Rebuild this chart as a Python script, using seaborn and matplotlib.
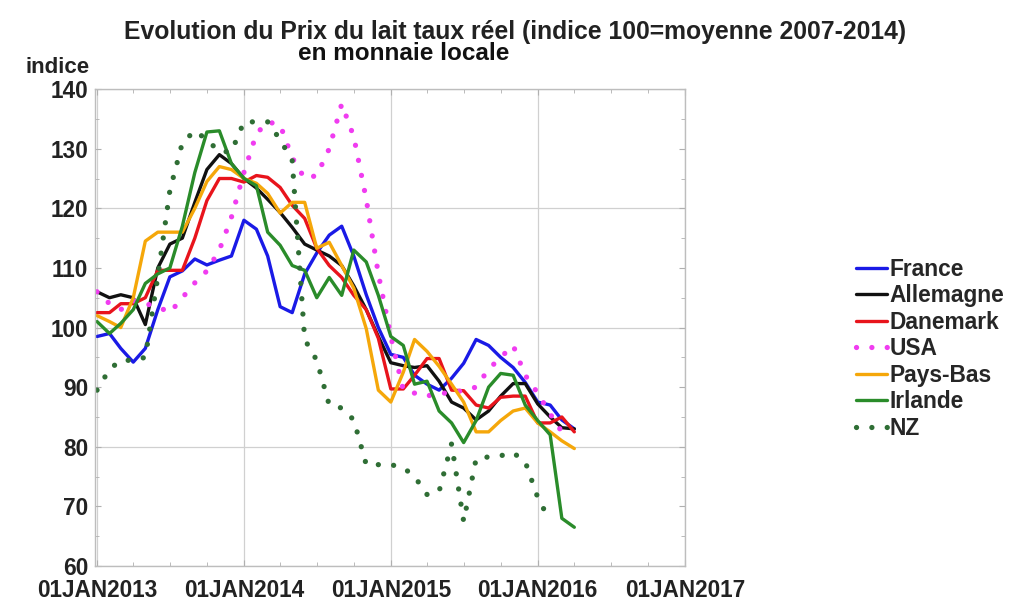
import numpy as np
import pandas as pd
import seaborn as sns
import matplotlib
matplotlib.use("Agg")
import matplotlib.pyplot as plt
import matplotlib.dates as mdates
from matplotlib.ticker import MultipleLocator, FuncFormatter

# --- données (mensuel, jan 2013 -> avr 2016) ---
mois = pd.date_range("2013-01-01", periods=40, freq="MS")

france = [98.5, 99, 96.5, 94.2, 96.5, 103, 108.5, 109.5, 111.5, 110.5,
          111.3, 112, 118, 116.5, 112, 103.5, 102.5, 109, 112.5, 115.5,
          117, 112, 105.5, 100, 95.5, 95, 92, 90.5, 89.5, 91.5,
          94, 98, 97, 95, 93.3, 90.8, 87.5, 87, 84.5, 83]
allemagne = [106, 105, 105.5, 105, 100.5, 110, 114, 115, 121, 126.5,
             129, 127.5, 125, 123.4, 121.5, 119.3, 116.8, 114, 113, 112,
             110.4, 107, 103, 98.5, 94.1, 93.6, 93.3, 93.6, 91, 87.5,
             86.5, 84.5, 86, 88.5, 90.6, 90.6, 87.2, 85, 83.2, 83]
danemark = [102.5, 102.5, 104, 104, 105, 109.6, 109.6, 109.6, 115, 121.3,
            125, 125, 124.4, 125.5, 125.2, 123.5, 120.5, 118.3, 113.3, 110.4,
            108.4, 105.4, 103, 98.2, 89.7, 89.7, 92, 94.8, 94.8, 89.5,
            89.4, 87, 86.5, 88.3, 88.5, 88.5, 84, 84, 85, 82.5]
usa = [106, 104, 103, 104.5, 104, 103.5, 102.5, 105, 107.5, 109.5,
       113, 118.5, 126, 132.5, 134.5, 134, 128.5, 125, 125.5, 130,
       137.5, 132, 121.5, 109, 98.5, 89.5, 89, 88.5, 89, 89,
       89.5, 90, 93, 95, 97, 92, 89, 85.5, 82.5, np.nan]
pays_bas = [102, 101, 100, 105, 114.5, 116, 116, 116, 120, 124.5,
            127, 126.5, 125, 124.2, 122.5, 119.2, 121, 121, 113.3, 114.3,
            110.4, 106.6, 99.8, 89.5, 87.5, 92.5, 98, 96, 93.5, 90.5,
            87.5, 82.5, 82.5, 84.4, 86, 86.5, 84, 82.5, 81, 79.7]
irlande = [101, 99, 100.7, 103, 107.4, 109, 110, 117, 126, 132.8,
           133, 127.5, 125, 123.8, 116, 113.8, 110.4, 109.6, 105, 108.4,
           105.4, 113, 111, 105.4, 98.5, 97, 90.5, 91, 86, 84,
           80.7, 84.4, 90, 92.3, 92, 87, 84.4, 82, 68, 66.5]
nz = [89.5, 93, 94.5, 94.5, 95, 108.5, 123, 131, 133, 131.5,
      129.5, 129.5, 134.5, 134.5, 134.5, 131.5, 128, 98, 94.5, 87,
      86.5, 84.5, 77, 77, 77, 76.5, 75, 72, 72.5, 80.5,
      67.5, 78, 78.3, 78.5, 79, 77.5, 71.5, 67.5, np.nan, np.nan]

pays = ["France", "Allemagne", "Danemark", "USA", "Pays-Bas", "Irlande", "NZ"]
valeurs = [france, allemagne, danemark, usa, pays_bas, irlande, nz]
couleurs = ["#1a1ae6", "#111111", "#e8141c", "#f03cf0", "#f5a70a", "#2a8c2a", "#2f6e35"]
pointille = [False, False, False, True, False, False, True]

sns.set_style("white")
plt.rcParams["font.family"] = ["Liberation Sans", "DejaVu Sans"]
plt.rcParams["font.weight"] = "bold"

fig = plt.figure(figsize=(10.13, 6.06), dpi=100)
ax = fig.add_axes([0.0938, 0.066, 0.5824, 0.787])

for nom, v, c, dot in zip(pays, valeurs, couleurs, pointille):
    d = pd.DataFrame({"date": mois, "indice": v}).dropna()
    if dot:
        sns.lineplot(data=d, x="date", y="indice", ax=ax, color=c, lw=3.8,
                     linestyle=(0, (0.01, 2.9)), dash_capstyle="round", label=nom)
    else:
        sns.lineplot(data=d, x="date", y="indice", ax=ax, color=c, lw=2.4, label=nom)

ax.set_xlim(pd.Timestamp("2012-12-27"), pd.Timestamp("2017-01-01"))
ax.set_ylim(60, 140)
ax.set_xlabel("")
ax.set_ylabel("")

ax.xaxis.set_major_locator(mdates.YearLocator())
ax.xaxis.set_minor_locator(mdates.MonthLocator(bymonth=[1, 4, 7, 10]))
ax.xaxis.set_major_formatter(FuncFormatter(lambda x, p: mdates.num2date(x).strftime("%d%b%Y").upper()))
ax.yaxis.set_major_locator(MultipleLocator(10))
ax.yaxis.set_minor_locator(MultipleLocator(5))

ax.tick_params(axis="both", which="both", direction="in", colors="#b0b0b0",
               top=True, right=True, bottom=True, left=True)
ax.tick_params(axis="both", which="major", length=4, labelsize=16.3, labelcolor="#222222")
ax.tick_params(axis="both", which="minor", length=3)
ax.tick_params(axis="x", which="major", pad=9)
ax.tick_params(axis="y", which="major", pad=5)
for lab in ax.get_xticklabels() + ax.get_yticklabels():
    lab.set_fontweight("bold")

for yv in [60, 80, 100, 120, 140]:
    ax.axhline(yv, color="#d0d0d0", lw=0.9, zorder=0)
for an in range(2013, 2018):
    ax.axvline(pd.Timestamp(f"{an}-01-01"), color="#d0d0d0", lw=0.9, zorder=0)
for s in ax.spines.values():
    s.set_color("#bdbdbd")
    s.set_linewidth(1.0)

ax.legend(loc="upper left", bbox_to_anchor=(0.834, 0.593), bbox_transform=fig.transFigure,
          frameon=False, handlelength=1.35, handletextpad=0.12,
          labelspacing=0.15, borderpad=0, prop={"weight": "bold", "size": 16.4})

fig.text(0.508, 0.947, "Evolution du Prix du lait taux réel (indice 100=moyenne 2007-2014)",
         ha="center", va="center", fontsize=17.8, fontweight="bold", color="#222222")
fig.text(0.294, 0.911, "en monnaie locale", ha="left", va="center",
         fontsize=17.5, fontweight="bold", color="#111111")
fig.text(0.025, 0.888, "indice", ha="left", va="center",
         fontsize=16, fontweight="bold", color="#222222")

fig.savefig("out.png", dpi=100)
